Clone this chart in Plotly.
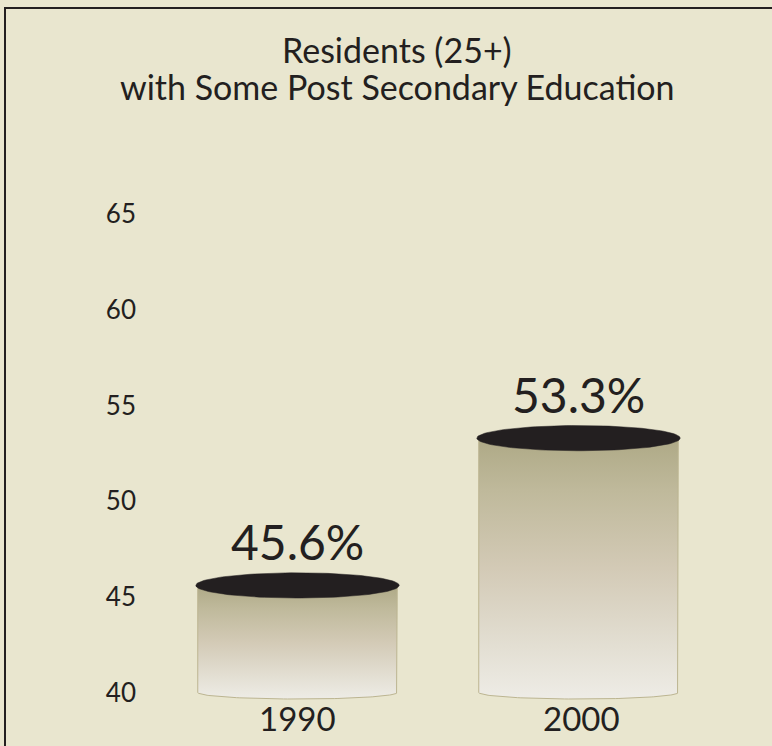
import numpy as np
import plotly.graph_objects as go

# Share of residents aged 25+ with some post-secondary education
years = ["1990", "2000"]
shares = [45.6, 53.3]
y_ticks = [40, 45, 50, 55, 60, 65]
title_lines = ["Residents (25+)", "with Some Post Secondary Education"]

BASE = 40.0          # cylinders stand on the bottom of the scale
BODY_HW = 0.355      # half width of cylinder body (x units)
TOP_HW = 0.362       # half width of the lid ellipse
TOP_RY = 0.66        # vertical radius of the lid (y units)
BOT_RY = 0.34        # vertical radius of the base curve

BG = "#E9E6CF"
INK = "#231F20"
FONT = "Lato"

body_scale = [[0.0, "#EEECE6"], [0.2, "#E3DFD3"], [0.5, "#D3CAB6"], [0.8, "#BFB99B"], [1.0, "#AEA986"]]

# plot-area placement in pixels
L, T, W, H = 157, 157, 562, 547
def px_x(p):
    return (p - L) / W
def px_y(p):
    return (T + H - p) / H

fig = go.Figure()

for i, (yr, v) in enumerate(zip(years, shares)):
    # cylinder body: left side up, right side down, then the base arc back to the start
    t = np.linspace(0, np.pi, 80)
    arc_x = i + BODY_HW * np.cos(t)
    arc_y = BASE - BOT_RY * np.sin(t)
    bx = [i - BODY_HW, i - BODY_HW, i + BODY_HW, i + BODY_HW] + list(arc_x)
    by = [BASE, v, v, BASE] + list(arc_y)
    fig.add_trace(go.Scatter(
        x=bx, y=by, mode="lines", fill="toself",
        fillgradient=dict(type="vertical", colorscale=body_scale,
                          start=BASE - BOT_RY, stop=v),
        line=dict(color="#BCB591", width=1),
        hoverinfo="skip", showlegend=False,
    ))
    # dark lid
    tt = np.linspace(0, 2 * np.pi, 120)
    fig.add_trace(go.Scatter(
        x=i + TOP_HW * np.cos(tt), y=v + TOP_RY * np.sin(tt),
        mode="lines", fill="toself", fillcolor=INK,
        line=dict(color=INK, width=0.5),
        hoverinfo="skip", showlegend=False,
    ))
    # value label above the lid
    fig.add_annotation(
        x=i, y=v + TOP_RY, text=f"{v}%", showarrow=False,
        yanchor="bottom", yshift=1,
        font=dict(family=FONT, size=48, color=INK),
    )
    # year label under the cylinder
    fig.add_annotation(
        x=i, y=BASE, text=yr, showarrow=False,
        yanchor="middle", yshift=-25, xshift=3 * i,
        font=dict(family=FONT, size=33, color=INK),
    )

# two-line heading
for line, ypx in zip(title_lines, [50, 86]):
    fig.add_annotation(
        xref="paper", yref="paper", x=px_x(397), y=px_y(ypx),
        text=line, showarrow=False, xanchor="center", yanchor="middle",
        font=dict(family=FONT, size=34, color=INK),
    )

# frame lines along the left and top edges
fig.add_shape(type="line", xref="paper", yref="paper",
              x0=px_x(5), x1=px_x(5), y0=px_y(760), y1=px_y(8),
              line=dict(color=INK, width=2))
fig.add_shape(type="line", xref="paper", yref="paper",
              x0=px_x(4), x1=px_x(790), y0=px_y(8), y1=px_y(8),
              line=dict(color=INK, width=2))

fig.update_layout(
    width=772, height=746,
    margin=dict(l=L, r=772 - L - W, t=T, b=746 - T - H, autoexpand=False),
    paper_bgcolor=BG, plot_bgcolor=BG,
    xaxis=dict(range=[-0.5, 1.5], showgrid=False, zeroline=False,
               showline=False, showticklabels=False, fixedrange=True),
    yaxis=dict(range=[39.4, 68], tickvals=y_ticks, showgrid=False,
               zeroline=False, showline=False, ticks="",
               ticklabelstandoff=20,
               tickfont=dict(family=FONT, size=26, color=INK), fixedrange=True),
)

fig.write_html("out.html")
